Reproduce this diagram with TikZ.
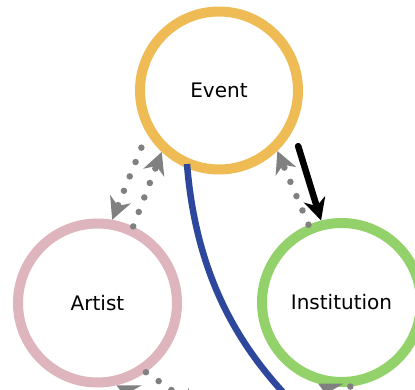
\documentclass[tikz,border=0pt]{standalone}
\usepackage{fontspec}
\setmainfont{DejaVu Sans}
\usetikzlibrary{arrows.meta,calc}
\definecolor{evcol}{RGB}{239,187,85}
\definecolor{arcol}{RGB}{222,181,189}
\definecolor{incol}{RGB}{147,210,106}
\definecolor{bluecol}{RGB}{45,71,156}
\definecolor{dotgray}{RGB}{128,128,128}
\begin{document}
\begin{tikzpicture}[x=1pt,y=-1pt,
  entity/.style={circle, draw, line width=10pt, fill=white, minimum size=159pt,
    inner sep=0pt, font=\fontsize{20}{24}\selectfont},
  dotline/.style={draw=dotgray, line width=6.5pt, line cap=round,
    dash pattern=on 0pt off 15.5pt,
    -{Stealth[length=22pt,width=22pt,inset=7pt,fill=dotgray]}},
  solidarrow/.style={draw=black, line width=6.5pt, line cap=round,
    -{Stealth[length=22pt,width=22pt,inset=7pt]}},
  blueline/.style={draw=bluecol, line width=6.5pt}
]
\useasboundingbox (0,0) rectangle (415,390);
\clip (0,0) rectangle (415,390);
\fill[white] (0,0) rectangle (415,390);

\node[entity, draw=evcol, minimum size=158pt] (event) at (219,90.5) {Event};
\node[entity, draw=arcol] (artist) at (97.5,303) {Artist};
\node[entity, draw=incol] (institution) at (341.5,302.5) {Institution};

\coordinate (b1) at (300,410);
\coordinate (a1) at (200,410);
\coordinate (a2) at (175,415);
\coordinate (i1) at (370,420);
\coordinate (i2) at (380,415);

% Event <-> Artist
\draw[dotline, shorten <=15pt] (event.211) -- (artist.80);
\draw[dotline] (artist.65) -- (event.227);
% Institution -> Event
\draw[dotline] (institution.113) -- (event.314);
% Event -> Institution
\draw[solidarrow, shorten <=17pt] (event.332) -- (institution.104);
% blue curve
\draw[blueline] ($(event.center)+(-32,73.5)$) .. controls (197,290) and (250,360) .. (b1);
% lower edges (leaving the frame)
\draw[dotline] (artist.305) -- (a1);
\draw[dotline] (a2) -- (artist.283);
\draw[dotline] (institution.276) -- (i1);
\draw[dotline] (i2) -- (institution.254);
\end{tikzpicture}
\end{document}
